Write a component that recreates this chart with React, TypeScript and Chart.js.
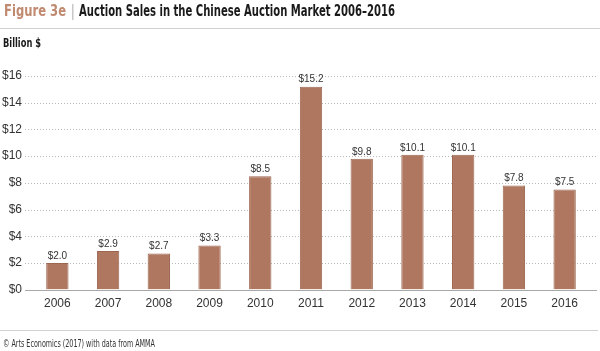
import React, { useEffect, useRef } from "react";
import { Chart, registerables } from "chart.js";

Chart.register(...registerables);

const years = ["2006", "2007", "2008", "2009", "2010", "2011", "2012", "2013", "2014", "2015", "2016"];
const sales = [2.0, 2.9, 2.7, 3.3, 8.5, 15.2, 9.8, 10.1, 10.1, 7.8, 7.5];
const yTicks = [0, 2, 4, 6, 8, 10, 12, 14, 16];

const TITLE_FIG = "Figure 3e";
const TITLE_TEXT = "Auction Sales in the Chinese Auction Market 2006–2016";
const UNIT = "Billion $";
const SOURCE = "© Arts Economics (2017) with data from AMMA";

const NARROW = "'Liberation Sans Narrow', 'DejaVu Sans Condensed', 'Liberation Sans', sans-serif";
const SANS = "'Liberation Sans', Arial, sans-serif";

function fitText(ctx: CanvasRenderingContext2D, text: string, x: number, y: number, width: number) {
  const w = ctx.measureText(text).width;
  const s = width / w;
  ctx.save();
  ctx.translate(x, y);
  ctx.scale(s, 1);
  ctx.fillText(text, 0, 0);
  ctx.restore();
}

const decorPlugin = {
  id: "decor",
  beforeDatasetsDraw(chart: any) {
    const ctx = chart.ctx;
    const y = chart.scales.y;
    ctx.save();
    ctx.strokeStyle = "#b8b8b8";
    ctx.lineWidth = 1;
    ctx.setLineDash([1, 2]);
    for (const v of yTicks) {
      if (v === 0) continue;
      const py = Math.round(y.getPixelForValue(v)) + 0.5;
      ctx.beginPath();
      ctx.moveTo(25, py);
      ctx.lineTo(597, py);
      ctx.stroke();
    }
    ctx.setLineDash([]);
    ctx.strokeStyle = "#a8a8a8";
    const p0 = Math.round(y.getPixelForValue(0)) + 0.5;
    ctx.beginPath();
    ctx.moveTo(25, p0);
    ctx.lineTo(597, p0);
    ctx.stroke();
    ctx.restore();
  },
  afterDraw(chart: any) {
    const ctx = chart.ctx;
    ctx.save();
    ctx.textBaseline = "middle";
    ctx.textAlign = "left";
    ctx.font = "bold 15px " + NARROW;
    ctx.fillStyle = "#c08a70";
    fitText(ctx, TITLE_FIG, 4, 12, 62);
    ctx.fillStyle = "#c8c8c8";
    ctx.fillRect(72, 4, 1.5, 16);
    ctx.fillStyle = "#1a1a1a";
    fitText(ctx, TITLE_TEXT, 79, 12, 316);

    ctx.fillStyle = "#d0d0d0";
    ctx.fillRect(0, 28, 600, 1);
    ctx.fillRect(0, 330, 598, 1);

    ctx.font = "bold 12px " + NARROW;
    ctx.fillStyle = "#1a1a1a";
    fitText(ctx, UNIT, 3, 44, 38);

    ctx.font = "10px " + NARROW;
    ctx.fillStyle = "#333333";
    fitText(ctx, SOURCE, 3, 344, 152);

    const meta = chart.getDatasetMeta(0);
    ctx.font = "10px " + SANS;
    ctx.textAlign = "center";
    ctx.textBaseline = "bottom";
    ctx.fillStyle = "#333333";
    meta.data.forEach((bar: any, i: number) => {
      ctx.fillText("$" + sales[i].toFixed(1), bar.x, bar.y - 2);
    });
    ctx.restore();
  },
};

export default function App() {
  const ref = useRef<HTMLCanvasElement>(null);
  useEffect(() => {
    if (!ref.current) return;
    const chart = new Chart(ref.current, {
      type: "bar",
      data: {
        labels: years,
        datasets: [
          {
            data: sales,
            backgroundColor: "#b07760",
            borderColor: "#9c6650",
            borderWidth: 1,
            categoryPercentage: 1,
            barPercentage: 0.44,
          },
        ],
      },
      options: {
        animation: false,
        responsive: false,
        maintainAspectRatio: false,
        layout: { padding: { left: 0, right: 10, top: 76, bottom: 33 } },
        plugins: { legend: { display: false }, tooltip: { enabled: false } },
        scales: {
          x: {
            grid: { display: false, drawTicks: false },
            border: { display: false },
            ticks: { color: "#333333", font: { family: SANS, size: 12 }, padding: 7 },
          },
          y: {
            min: 0,
            max: 16,
            afterFit(scale: any) {
              scale.width = 32;
            },
            grid: { display: false, drawTicks: false },
            border: { display: false },
            ticks: {
              stepSize: 2,
              padding: 10,
              color: "#333333",
              font: { family: SANS, size: 12 },
              callback: (v: any) => "$" + v,
            },
          },
        },
      },
      plugins: [decorPlugin],
    });
    return () => chart.destroy();
  }, []);
  return (
    <div style={{ position: "fixed", left: 0, top: 0, width: 600, height: 351, background: "#fff" }}>
      <canvas ref={ref} width={600} height={351} style={{ display: "block" }} />
    </div>
  );
}
